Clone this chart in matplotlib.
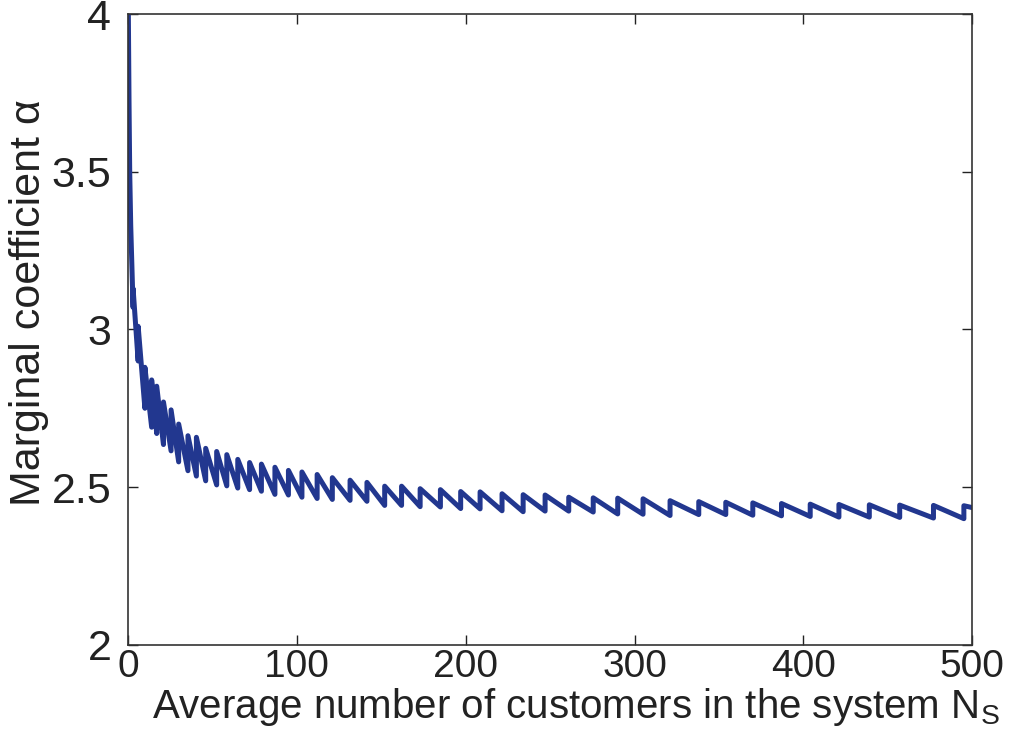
import numpy as np
import matplotlib.pyplot as plt

plt.rcParams['font.family'] = ['Liberation Sans', 'DejaVu Sans']
plt.rcParams['mathtext.fontset'] = 'custom'
plt.rcParams['mathtext.rm'] = 'Liberation Sans'
plt.rcParams['mathtext.it'] = 'Liberation Sans:italic'

# steep start before the first step
lead_n = [0.2, 0.6, 1.0, 1.6, 2.3]
lead_a = [4.0, 3.72, 3.5, 3.33, 3.2]

# sawtooth: position of each upward step, value just before it and just after it
step_n = [3, 6, 10, 14, 17, 21, 25.5, 30, 35.5, 40.5,
          46, 52.5, 58.5, 65, 72, 79, 87, 95, 103, 112,
          121, 131.5, 141.5, 152, 162, 173, 185, 197, 208.5, 221.5,
          234, 247, 261, 275.5, 290, 305, 321, 338, 354, 370,
          387, 404, 421, 439, 457, 477, 495]
low_a = [3.07, 2.90, 2.75, 2.69, 2.67, 2.635, 2.615, 2.58, 2.552, 2.535,
         2.52, 2.507, 2.504, 2.497, 2.492, 2.487, 2.477, 2.475, 2.468, 2.464,
         2.461, 2.458, 2.455, 2.442, 2.442, 2.438, 2.437, 2.432, 2.431, 2.425,
         2.422, 2.424, 2.424, 2.421, 2.415, 2.414, 2.410, 2.413, 2.413, 2.411,
         2.409, 2.407, 2.405, 2.405, 2.404, 2.402, 2.400]
high_a = [3.13, 3.01, 2.88, 2.84, 2.82, 2.77, 2.745, 2.70, 2.663, 2.658,
          2.623, 2.613, 2.603, 2.588, 2.578, 2.573, 2.563, 2.553, 2.548, 2.540,
          2.530, 2.522, 2.515, 2.503, 2.503, 2.495, 2.492, 2.486, 2.485, 2.479,
          2.476, 2.475, 2.468, 2.466, 2.465, 2.463, 2.457, 2.454, 2.452, 2.450,
          2.448, 2.446, 2.445, 2.444, 2.443, 2.442, 2.441]
end_n = 500
end_a = 2.435

xs = list(lead_n)
ys = list(lead_a)
for n, lo, hi in zip(step_n, low_a, high_a):
    xs += [n, n]
    ys += [lo, hi]
xs.append(end_n)
ys.append(end_a)

fig = plt.figure(figsize=(10.16, 7.42), dpi=100)
ax = fig.add_axes([0.126, 0.131, 0.831, 0.850])
ax.plot(xs, ys, color='#22378f', lw=3.6, solid_joinstyle='round')

ax.set_xlim(0, 500)
ax.set_ylim(2, 4)
ax.set_xticks([0, 100, 200, 300, 400, 500])
ax.set_yticks([2, 2.5, 3, 3.5, 4])
ax.set_yticklabels(['2', '2.5', '3', '3.5', '4'])
ax.tick_params(direction='in', length=7, width=1, top=True, right=True,
               colors='#222222')
ax.tick_params(axis='y', labelsize=31, pad=12)
ax.tick_params(axis='x', labelsize=28, pad=3)
for s in ax.spines.values():
    s.set_linewidth(1.2)
    s.set_color('#333333')

ax.set_xlabel(r'Average number of customers in the system N$_\mathrm{S}$',
              fontsize=29, color='#222222')
ax.set_ylabel('Marginal coefficient α', fontsize=31, color='#222222')
ax.xaxis.set_label_coords(0.53, -0.066)
ax.xaxis.label.set_va('top')
ax.yaxis.set_label_coords(-0.094, 0.542)

fig.savefig('out.png', dpi=100)
